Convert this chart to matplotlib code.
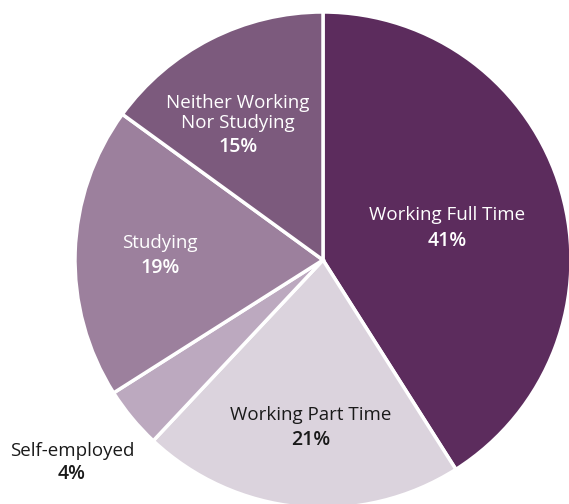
import matplotlib.pyplot as plt

labels = ["Working Full Time", "Working Part Time", "Self-employed", "Studying",
          "Neither Working\nNor Studying"]
shares = [41, 21, 4, 19, 15]
colors = ["#5c2c5d", "#dbd3dd", "#bca9bf", "#9c809d", "#7c5a7d"]
text_colors = ["white", "#1a1a1a", "#1a1a1a", "white", "white"]
# label anchor points in pixel space: x, name centre y, percent centre y (from top)
label_pos = [(447, 215, 241), (311, 415, 440), (72, 451, 474),
             (160, 243, 268), (238, 113, 147)]

plt.rcParams["font.family"] = ["Open Sans", "DejaVu Sans"]

fig = plt.figure(figsize=(5.69, 5.04), dpi=100)
ax = fig.add_axes([0, 0, 1, 1])
ax.set_xlim(0, 569)
ax.set_ylim(0, 504)
ax.set_aspect("equal")
ax.axis("off")

ax.pie(shares, colors=colors, startangle=90, counterclock=False,
       center=(323, 504 - 260), radius=248,
       wedgeprops=dict(edgecolor="white", linewidth=2.5))

for lab, val, (x, y1, y2), tc in zip(labels, shares, label_pos, text_colors):
    ax.text(x, 504 - y1, lab, ha="center", va="center", color=tc, fontsize=13.5,
            linespacing=1.15)
    ax.text(x, 504 - y2, f"{val}%", ha="center", va="center", color=tc,
            fontsize=14, fontweight="semibold")

ax.set_xlim(0, 569)
ax.set_ylim(0, 504)

fig.savefig("out.png", dpi=100)
